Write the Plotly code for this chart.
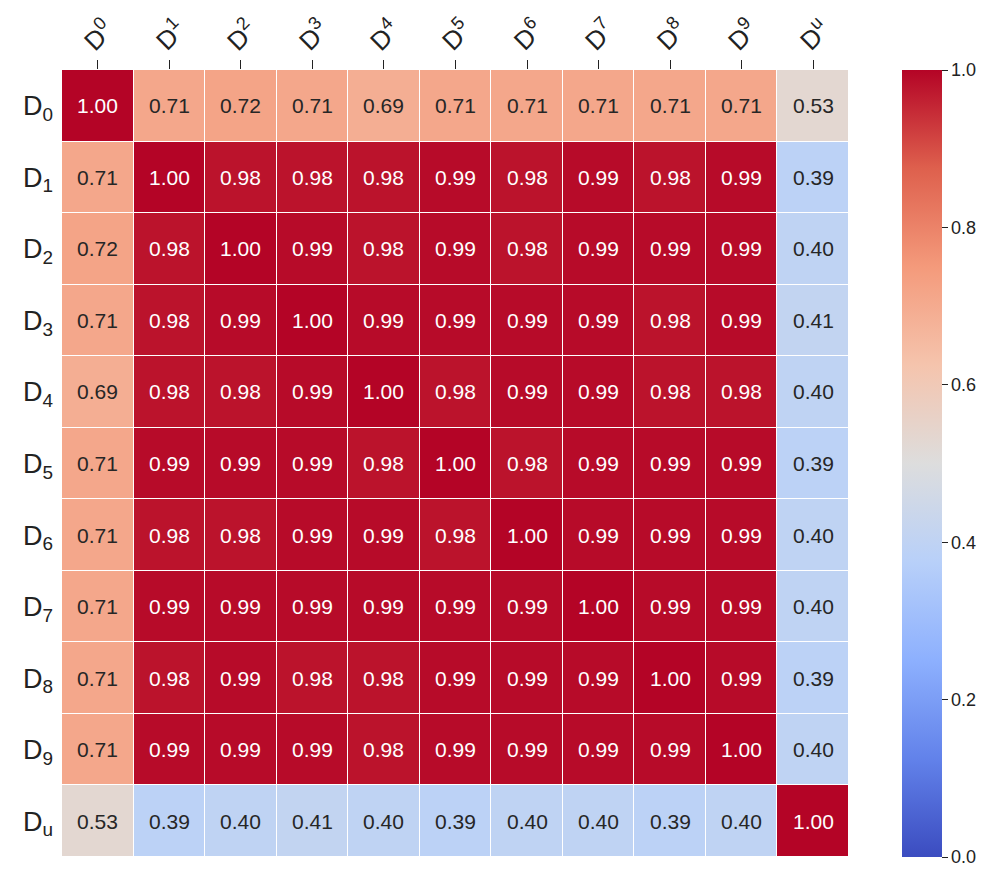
"""Correlation heatmap of D0..D9 and Du."""

import plotly.graph_objects as go

LABELS = ["D<sub>0</sub>", "D<sub>1</sub>", "D<sub>2</sub>", "D<sub>3</sub>", "D<sub>4</sub>",
          "D<sub>5</sub>", "D<sub>6</sub>", "D<sub>7</sub>", "D<sub>8</sub>", "D<sub>9</sub>",
          "D<sub>u</sub>"]
TOP_LABELS = ["D<sup>0</sup>", "D<sup>1</sup>", "D<sup>2</sup>", "D<sup>3</sup>", "D<sup>4</sup>",
              "D<sup>5</sup>", "D<sup>6</sup>", "D<sup>7</sup>", "D<sup>8</sup>", "D<sup>9</sup>",
              "D<sup>u</sup>"]

row_d0 = [1.00, 0.71, 0.72, 0.71, 0.69, 0.71, 0.71, 0.71, 0.71, 0.71, 0.53]
row_d1 = [0.71, 1.00, 0.98, 0.98, 0.98, 0.99, 0.98, 0.99, 0.98, 0.99, 0.39]
row_d2 = [0.72, 0.98, 1.00, 0.99, 0.98, 0.99, 0.98, 0.99, 0.99, 0.99, 0.40]
row_d3 = [0.71, 0.98, 0.99, 1.00, 0.99, 0.99, 0.99, 0.99, 0.98, 0.99, 0.41]
row_d4 = [0.69, 0.98, 0.98, 0.99, 1.00, 0.98, 0.99, 0.99, 0.98, 0.98, 0.40]
row_d5 = [0.71, 0.99, 0.99, 0.99, 0.98, 1.00, 0.98, 0.99, 0.99, 0.99, 0.39]
row_d6 = [0.71, 0.98, 0.98, 0.99, 0.99, 0.98, 1.00, 0.99, 0.99, 0.99, 0.40]
row_d7 = [0.71, 0.99, 0.99, 0.99, 0.99, 0.99, 0.99, 1.00, 0.99, 0.99, 0.40]
row_d8 = [0.71, 0.98, 0.99, 0.98, 0.98, 0.99, 0.99, 0.99, 1.00, 0.99, 0.39]
row_d9 = [0.71, 0.99, 0.99, 0.99, 0.98, 0.99, 0.99, 0.99, 0.99, 1.00, 0.40]
row_du = [0.53, 0.39, 0.40, 0.41, 0.40, 0.39, 0.40, 0.40, 0.39, 0.40, 1.00]

Z = [row_d0, row_d1, row_d2, row_d3, row_d4, row_d5, row_d6, row_d7, row_d8, row_d9, row_du]

# matplotlib "coolwarm"
COOLWARM = [
    [0.0, "#3b4cc0"], [0.125, "#6282ea"], [0.25, "#8db0fe"], [0.375, "#b8d0f9"],
    [0.5, "#dddddd"], [0.625, "#f5c4ad"], [0.75, "#f49a7b"], [0.875, "#de604d"],
    [1.0, "#b40426"],
]

FONT = "Liberation Sans, Arial, sans-serif"

fig = go.Figure(go.Heatmap(
    z=Z,
    x=LABELS,
    y=LABELS,
    colorscale=COOLWARM,
    zmin=0, zmax=1,
    xgap=1, ygap=1,
    colorbar=dict(
        x=1.067, xanchor="left", xpad=0, ypad=0,
        y=0.5, yanchor="middle", len=1.0, lenmode="fraction",
        thickness=40, outlinewidth=0,
        tickvals=[0.0, 0.2, 0.4, 0.6, 0.8, 1.0],
        tickformat=".1f",
        ticks="outside", ticklen=6, tickwidth=1.2, tickcolor="#222222",
        tickfont=dict(size=18, color="#222222", family=FONT),
    ),
    hovertemplate="%{y} / %{x}: %{z:.2f}<extra></extra>",
))

for i, row in enumerate(Z):
    for j, v in enumerate(row):
        fig.add_annotation(
            x=LABELS[j], y=LABELS[i], text=f"{v:.2f}", showarrow=False,
            font=dict(size=21, family=FONT, color="white" if v > 0.85 else "#262626"),
        )

# rotated top labels, centred over their ticks (matplotlib-style)
for lbl, txt in zip(LABELS, TOP_LABELS):
    fig.add_annotation(
        x=lbl, y=1, xref="x", yref="paper", text=txt, showarrow=False,
        textangle=-45, xanchor="center", yanchor="middle", yshift=36,
        font=dict(size=26, family=FONT, color="#222222"),
    )

fig.update_xaxes(
    side="top", showticklabels=False,
    ticks="outside", ticklen=9, tickwidth=1.2, tickcolor="#222222",
    showgrid=False, zeroline=False, showline=False, automargin=False,
)
fig.update_yaxes(
    autorange="reversed",
    tickfont=dict(size=27, family=FONT, color="#222222"),
    ticks="", ticklabelstandoff=8,
    showgrid=False, zeroline=False, showline=False, automargin=False,
)

# the page body adds an 8px offset, so margins are trimmed to land the grid in place
fig.update_layout(
    width=997, height=881,
    margin=dict(l=54, r=156, t=62, b=32),
    plot_bgcolor="white", paper_bgcolor="white",
    font=dict(family=FONT),
)

fig.write_html("out.html")
